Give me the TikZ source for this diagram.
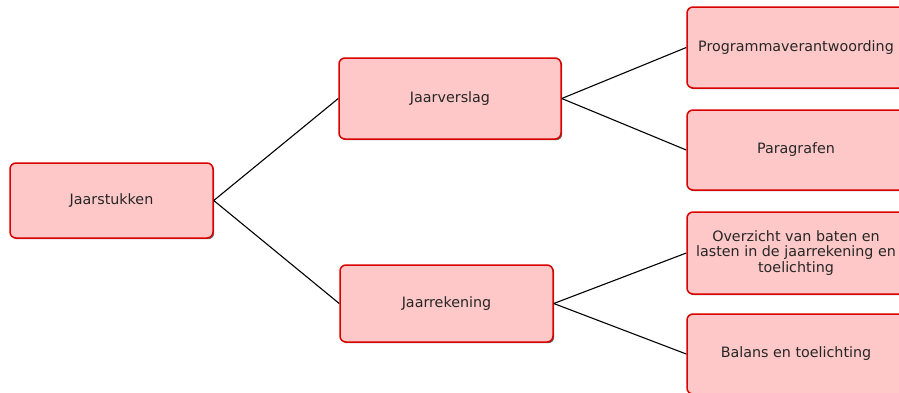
\documentclass[tikz,border=0pt]{standalone}
\usepackage{fontspec}
\setmainfont{DejaVu Sans}
\usetikzlibrary{shadows}
\begin{document}
\begin{tikzpicture}[x=1pt,y=-1pt,
  box/.style={draw=red!85!black, line width=1.5pt, fill=pinkfill, rounded corners=6pt,
    inner sep=0pt, align=center, font=\fontsize{14.3}{15.5}\selectfont, text=black!85,
    drop shadow={shadow xshift=1.2pt, shadow yshift=-1.2pt, fill=black!60, opacity=1}},
  link/.style={draw=black, line width=1.1pt}]
\definecolor{pinkfill}{HTML}{FFC8C8}
\useasboundingbox (0,0) rectangle (899,392);
\begin{scope}
\clip (0,0) rectangle (899,392);
\node[box, minimum width=203pt, minimum height=75pt] (js) at (111.5,200.5) {Jaarstukken};
\node[box, minimum width=222pt, minimum height=81pt] (jv) at (450,98.5) {Jaarverslag};
\node[box, minimum width=213pt, minimum height=77pt] (jr) at (446.5,303.5) {Jaarrekening};
\node[box, minimum width=218pt, minimum height=81pt] (pv) at (796,47.5) {Programmaverantwoording};
\node[box, minimum width=218pt, minimum height=80pt] (pg) at (796,150) {Paragrafen};
\node[box, minimum width=218pt, minimum height=82pt] (ov) at (796,253) {Overzicht van baten en\\lasten in de jaarrekening en\\toelichting};
\node[box, minimum width=218pt, minimum height=80pt] (bt) at (796,354) {Balans en toelichting};
\draw[link] (js.east) -- (jv.west);
\draw[link] (js.east) -- (jr.west);
\draw[link] (jv.east) -- (pv.west);
\draw[link] (jv.east) -- (pg.west);
\draw[link] (jr.east) -- (ov.west);
\draw[link] (jr.east) -- (bt.west);
\end{scope}
\end{tikzpicture}
\end{document}
